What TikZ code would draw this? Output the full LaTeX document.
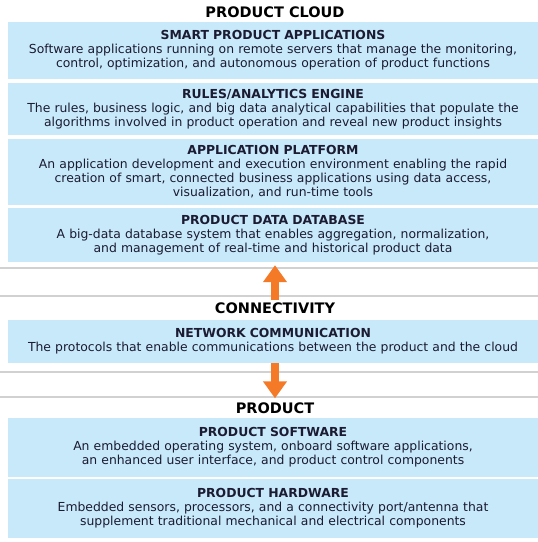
\documentclass[tikz,border=0pt]{standalone}
\usepackage{fontspec}
\setmainfont{DejaVu Sans}
\usetikzlibrary{arrows.meta}
\definecolor{boxblue}{HTML}{C8E9F9}
\definecolor{arroworange}{HTML}{F47A28}
\definecolor{inkblue}{HTML}{1B1B33}

\begin{document}
\begin{tikzpicture}
		[x = 1pt, y = -1pt,
		layer/.style = {fill=boxblue, text=inkblue, minimum width=530pt,
			text width=528pt, align=center, inner sep=0pt,
			font=\fontsize{12.4}{14}\selectfont},
		group/.style = {text=black, inner sep=2pt,
			font=\fontsize{14.5}{16}\selectfont\bfseries},
		flow/.style = {arroworange, line width=8pt,
			-{Triangle[width=23pt, length=17pt]}},
		rule/.style = {black!18, line width=1.5pt}]
	\useasboundingbox (0,0) rectangle (538,542);
	% faint page rules
	\foreach \y in {268, 296, 372, 397}
		\draw[rule] (0,\y) -- (538,\y);
	% product cloud
	\node[group] (cloud) at (275,12) {PRODUCT CLOUD};
	\node[layer, minimum height=57pt] (apps) at (273,50.5)
		{\textbf{SMART PRODUCT APPLICATIONS}\\
		Software applications running on remote servers that manage the monitoring,\\
		control, optimization, and autonomous operation of product functions};
	\node[layer, minimum height=52pt] (rules) at (273,109)
		{\textbf{RULES/ANALYTICS ENGINE}\\
		The rules, business logic, and big data analytical capabilities that populate the\\
		algorithms involved in product operation and reveal new product insights};
	\node[layer, minimum height=66pt] (platform) at (273,172)
		{\textbf{APPLICATION PLATFORM}\\
		An application development and execution environment enabling the rapid\\
		creation of smart, connected business applications using data access,\\
		visualization, and run-time tools};
	\node[layer, minimum height=54pt] (db) at (273,235)
		{\textbf{PRODUCT DATA DATABASE}\\
		A big-data database system that enables aggregation, normalization,\\
		and management of real-time and historical product data};
	% connectivity
	\node[group] (conn) at (275,308) {CONNECTIVITY};
	\node[layer, minimum height=43pt] (net) at (273,341.5)
		{\textbf{NETWORK COMMUNICATION}\\
		The protocols that enable communications between the product and the cloud};
	% product
	\node[group] (prod) at (275,408) {PRODUCT};
	\node[layer, minimum height=59pt] (soft) at (273,447.5)
		{\textbf{PRODUCT SOFTWARE}\\
		An embedded operating system, onboard software applications,\\
		an enhanced user interface, and product control components};
	\node[layer, minimum height=59pt] (hard) at (273,508.5)
		{\textbf{PRODUCT HARDWARE}\\
		Embedded sensors, processors, and a connectivity port/antenna that\\
		supplement traditional mechanical and electrical components};
	% arrows
	\draw[flow, shorten >=3pt] (conn.north) -- (conn.north |- db.south);
	\draw[flow, shorten >=2pt] (net.south -| prod.north) -- (prod.north);
\end{tikzpicture}
\end{document}
